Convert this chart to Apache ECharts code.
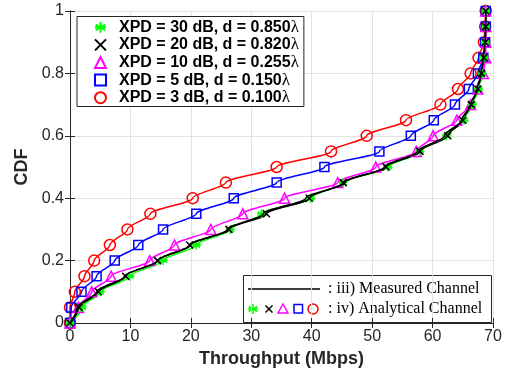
<!DOCTYPE html>
<html>
<head>
<meta charset="utf-8">
<script src="https://cdn.jsdelivr.net/npm/echarts@6/dist/echarts.min.js"></script>
<style>
  html, body { margin: 0; padding: 0; background: #fff; }
  #chart { width: 515px; height: 374px; }
</style>
</head>
<body>
<div id="chart"></div>
<script>
// CDF levels (one marker every 0.05)
const cdfLevels = [0, 0.05, 0.1, 0.15, 0.2, 0.25, 0.3, 0.35, 0.4, 0.45, 0.5,
  0.55, 0.6, 0.65, 0.7, 0.75, 0.8, 0.85, 0.9, 0.95, 1];

// throughput (Mbps) at each CDF level
const xpd30 = [0, 2.0, 5.0, 9.9, 15.4, 20.9, 26.5, 31.7, 39.8, 45.2, 52.6,
  57.9, 62.3, 65.2, 66.6, 67.6, 68.2, 68.5, 68.7, 68.8, 68.8];
const xpd20 = [0, 1.5, 4.7, 9.2, 14.5, 19.8, 26.3, 32.5, 39.6, 45.2, 52.3,
  57.9, 62.5, 65.0, 66.4, 67.5, 68.1, 68.5, 68.7, 68.8, 68.8];
const xpd10 = [0, 1.4, 3.6, 6.8, 13.2, 17.3, 23.3, 28.6, 35.5, 44.3, 50.6,
  57.3, 60.1, 64.0, 66.3, 67.5, 68.4, 68.8, 68.8, 68.8, 68.8];
const xpd5 = [0, 0.2, 1.9, 4.4, 7.4, 11.3, 15.4, 20.9, 27.1, 34.2, 42.1,
  51.2, 56.4, 60.2, 63.7, 66.0, 67.5, 68.4, 68.7, 68.8, 68.8];
const xpd3 = [0, 0, 0.8, 2.4, 4.0, 6.6, 9.5, 13.3, 20.3, 25.8, 34.2,
  43.2, 49.1, 55.6, 61.3, 64.2, 66.3, 67.6, 68.5, 68.7, 68.8];
const measured = [0, 1.2, 4.4, 9.0, 14.6, 20.0, 26.0, 32.0, 39.0, 45.5, 52.0,
  57.5, 62.0, 64.8, 66.3, 67.4, 68.0, 68.4, 68.7, 68.8, 68.8];

const xTicks = [0, 10, 20, 30, 40, 50, 60, 70];
const yTicks = [0, 0.2, 0.4, 0.6, 0.8, 1];

const names = [
  'XPD = 30 dB, d = 0.850λ',
  'XPD = 20 dB, d = 0.820λ',
  'XPD = 10 dB, d = 0.255λ',
  'XPD = 5 dB, d = 0.150λ',
  'XPD = 3 dB, d = 0.100λ',
];

const toPairs = xs => xs.map((x, i) => [x, cdfLevels[i]]);

// marker shapes (stroke only)
const starPath = 'path://M5,0L5,10M0.67,2.5L9.33,7.5M0.67,7.5L9.33,2.5M0,5L10,5';
const crossPath = 'path://M0,0L10,10M0,10L10,0';

const axisColor = '#262626';
const gridColor = '#e3e3e3';

function curve(name, xs, color, symbol, size) {
  return {
    name: name,
    type: 'line',
    data: toPairs(xs),
    smooth: 0.3,
    smoothMonotone: 'y',
    symbol: symbol,
    symbolSize: size,
    showAllSymbol: true,
    lineStyle: { color: color, width: 1.5 },
    itemStyle: { color: 'rgba(0,0,0,0)', borderColor: color, borderWidth: 1.5 },
    emphasis: { disabled: true },
    z: 3,
  };
}

const chart = echarts.init(document.getElementById('chart'));

const option = {
  backgroundColor: '#fff',
  animation: false,
  grid: { left: 70, right: 22, top: 11, bottom: 51 },
  xAxis: [
    {
      type: 'value', min: 0, max: 70, interval: 10,
      name: 'Throughput (Mbps)', nameLocation: 'middle', nameGap: 25,
      nameTextStyle: { fontFamily: 'Liberation Sans', fontWeight: 'bold', fontSize: 18, color: axisColor },
      axisLine: { lineStyle: { color: axisColor, width: 1 } },
      axisTick: { inside: true, length: 5, lineStyle: { color: axisColor } },
      axisLabel: { fontFamily: 'Liberation Sans', fontSize: 16, color: axisColor, margin: 6,
        formatter: v => xTicks.includes(v) ? String(v) : '' },
      splitLine: { show: true, lineStyle: { color: gridColor } },
    },
    {
      type: 'value', min: 0, max: 70, interval: 10, position: 'top',
      axisLine: { lineStyle: { color: axisColor, width: 1 } },
      axisTick: { inside: true, length: 5, lineStyle: { color: axisColor } },
      axisLabel: { show: false },
      splitLine: { show: false },
    },
  ],
  yAxis: [
    {
      type: 'value', min: 0, max: 1, interval: 0.2,
      name: 'CDF', nameLocation: 'middle', nameGap: 38,
      nameTextStyle: { fontFamily: 'Liberation Sans', fontWeight: 'bold', fontSize: 18, color: axisColor },
      axisLine: { show: true, lineStyle: { color: axisColor, width: 1 } },
      axisTick: { show: true, inside: true, length: 5, lineStyle: { color: axisColor } },
      axisLabel: { fontFamily: 'Liberation Sans', fontSize: 16, color: axisColor, margin: 6,
        formatter: v => {
          const t = yTicks.find(k => Math.abs(k - v) < 1e-9);
          return t === undefined ? '' : String(t);
        } },
      splitLine: { show: true, lineStyle: { color: gridColor } },
    },
    {
      type: 'value', min: 0, max: 1, interval: 0.2, position: 'right',
      axisLine: { show: true, lineStyle: { color: axisColor, width: 1 } },
      axisTick: { show: true, inside: true, length: 5, lineStyle: { color: axisColor } },
      axisLabel: { show: false },
      splitLine: { show: false },
    },
  ],
  legend: {
    orient: 'vertical',
    left: 77,
    top: 16.5,
    backgroundColor: '#fff',
    borderColor: axisColor,
    borderWidth: 1,
    borderRadius: 0,
    padding: [2, 5, 0, 17],
    itemGap: 0,
    itemWidth: 11,
    itemHeight: 11,
    textStyle: {
      fontFamily: 'Liberation Sans', fontWeight: 'bold', fontSize: 16, color: '#000',
      lineHeight: 17.6,
      padding: [0, 0, 0, 8],
      rich: {
        l: { fontFamily: 'Liberation Serif', fontWeight: 'normal', fontSize: 17, color: '#000', lineHeight: 17.6 },
      },
    },
    formatter: name => name.replace('λ', '{l|λ}'),
    data: [
      { name: names[0], icon: starPath },
      { name: names[1], icon: crossPath },
      { name: names[2], icon: 'triangle' },
      { name: names[3], icon: 'rect' },
      { name: names[4], icon: 'circle' },
    ],
    selectedMode: false,
  },
  series: [
    curve(names[4], xpd3, '#ff0000', 'circle', 11),
    curve(names[3], xpd5, '#0000ff', 'rect', 9),
    curve(names[2], xpd10, '#ff00ff', 'triangle', 10),
    curve(names[0], xpd30, '#00ff00', starPath, 9),
    curve(names[1], xpd20, '#000000', crossPath, 7),
    {
      name: 'Measured',
      type: 'line',
      data: toPairs(measured),
      smooth: 0.3,
      smoothMonotone: 'y',
      symbol: 'none',
      lineStyle: { color: '#000', width: 1.5 },
      emphasis: { disabled: true },
      z: 4,
    },
  ],
  // second legend box: measured line vs analytical markers
  graphic: [
    {
      type: 'group', z: 100,
      children: [
        { type: 'rect', shape: { x: 243.5, y: 275.5, width: 248, height: 47 },
          style: { fill: '#fff', stroke: axisColor, lineWidth: 1 } },
        { type: 'line', shape: { x1: 248, y1: 289, x2: 320, y2: 289 },
          style: { stroke: '#000', lineWidth: 1.5 } },
        { type: 'text', x: 328, y: 289,
          style: { text: ': iii) Measured Channel', fill: '#000',
            font: '16px "Liberation Serif"', verticalAlign: 'middle' } },
        // green star
        { type: 'line', shape: { x1: 253, y1: 304, x2: 253, y2: 314 }, style: { stroke: '#00ff00', lineWidth: 1.5 } },
        { type: 'line', shape: { x1: 248, y1: 309, x2: 258, y2: 309 }, style: { stroke: '#00ff00', lineWidth: 1.5 } },
        { type: 'line', shape: { x1: 248.7, y1: 306.5, x2: 257.3, y2: 311.5 }, style: { stroke: '#00ff00', lineWidth: 1.5 } },
        { type: 'line', shape: { x1: 248.7, y1: 311.5, x2: 257.3, y2: 306.5 }, style: { stroke: '#00ff00', lineWidth: 1.5 } },
        // black cross
        { type: 'line', shape: { x1: 265.5, y1: 305.5, x2: 272.5, y2: 312.5 }, style: { stroke: '#000', lineWidth: 1.5 } },
        { type: 'line', shape: { x1: 265.5, y1: 312.5, x2: 272.5, y2: 305.5 }, style: { stroke: '#000', lineWidth: 1.5 } },
        // magenta triangle
        { type: 'polygon', shape: { points: [[283, 304], [288, 313], [278, 313]] },
          style: { fill: 'none', stroke: '#ff00ff', lineWidth: 1.5 } },
        // blue square
        { type: 'rect', shape: { x: 294, y: 304.5, width: 8.5, height: 8.5 },
          style: { fill: 'none', stroke: '#0000ff', lineWidth: 1.5 } },
        // red circle
        { type: 'circle', shape: { cx: 313, cy: 309, r: 5 },
          style: { fill: 'none', stroke: '#ff0000', lineWidth: 1.5 } },
        { type: 'text', x: 328, y: 309,
          style: { text: ': iv) Analytical Channel', fill: '#000',
            font: '16px "Liberation Serif"', verticalAlign: 'middle' } },
      ],
    },
  ],
};

chart.setOption(option);

window.addEventListener('resize', () => chart.resize());
</script>
</body>
</html>
